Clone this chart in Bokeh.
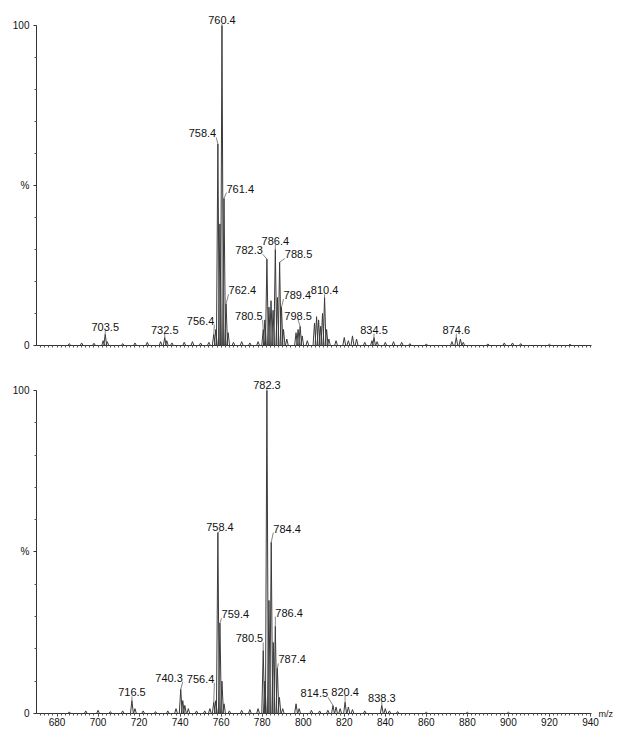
from bokeh.plotting import figure
from bokeh.models import FixedTicker, ColumnDataSource, LinearAxis
from bokeh.layouts import column
from bokeh.embed import file_html
from bokeh.resources import INLINE
from bokeh.core.properties import value, field

# ---------------- data ----------------
# top spectrum: m/z and relative intensity (%)
top_mz = [686, 692, 698, 702.5, 703.5, 704.5, 712, 718, 724, 730.5, 732.5, 733.5, 736,
          742, 746, 750, 754, 756.4, 757.4, 758.4, 759.4, 760.4, 761.4, 762.4, 763.4,
          766, 770, 774, 778, 780.5, 781.3, 782.3, 783.3, 784.3, 785.3, 786.4, 787.4,
          788.5, 789.4, 790.4, 792, 796.5, 797.5, 798.5, 799.5, 802, 805.5, 806.5, 807.5,
          808.5, 809.4, 810.4, 811.4, 812.5, 816, 820, 822, 824, 826, 830, 833.5, 834.5,
          836, 840, 844, 848, 852, 860, 872.5, 874.6, 876.6, 878, 890, 898, 902, 906,
          920, 930]
top_int = [0.6, 0.8, 0.7, 1.5, 3.5, 1.2, 0.6, 0.8, 1.0, 1.2, 2.5, 1.5, 0.8,
           1.0, 1.2, 0.8, 1.0, 3.5, 5.0, 63.0, 38.0, 100.0, 46.0, 13.0, 4.0,
           1.0, 1.2, 0.8, 1.2, 5.0, 8.0, 27.0, 12.0, 14.0, 11.0, 30.0, 15.0,
           26.0, 12.0, 5.0, 2.0, 4.0, 5.0, 6.0, 3.0, 1.5, 7.0, 9.0, 8.0,
           6.0, 10.0, 15.0, 5.0, 2.0, 1.5, 2.5, 1.5, 3.0, 2.0, 1.0, 1.5, 2.5,
           1.2, 1.0, 1.2, 1.0, 0.6, 0.5, 1.2, 2.5, 2.0, 1.0, 0.5, 0.8, 0.8, 0.6,
           0.4, 0.4]
top_labels = ["703.5", "732.5", "756.4", "758.4", "760.4", "761.4", "762.4", "780.5",
              "782.3", "786.4", "788.5", "789.4", "798.5", "810.4", "834.5", "874.6"]

# bottom spectrum
bot_mz = [686, 694, 700, 706, 712, 716.5, 718, 722, 728, 734, 738, 740.3, 741.3, 742.3,
          744, 748, 752, 754.5, 756.4, 757.4, 758.4, 759.4, 760.4, 761.4, 764, 770, 774,
          778, 780.5, 781.3, 782.3, 783.3, 784.4, 785.4, 786.4, 787.4, 788.4, 790, 796.5,
          798, 804, 808, 812, 814.5, 816, 818, 820.4, 822, 824, 830, 838.3, 840, 842,
          846, 860, 880, 900]
bot_int = [0.5, 0.8, 1.0, 0.6, 0.8, 4.0, 1.5, 0.8, 0.6, 0.8, 1.5, 7.5, 4.0, 2.5,
           1.5, 0.8, 0.8, 1.5, 3.5, 4.0, 56.0, 28.0, 10.0, 3.0, 0.8, 1.0, 1.2,
           1.5, 19.5, 10.0, 100.0, 35.0, 53.0, 22.0, 27.0, 14.0, 5.0, 1.5, 3.0,
           1.5, 1.0, 0.8, 1.0, 2.5, 2.0, 1.5, 3.5, 2.0, 1.2, 0.8, 2.5, 1.5, 0.8,
           0.6, 0.4, 0.4, 0.4]
bot_labels = ["716.5", "740.3", "756.4", "758.4", "759.4", "780.5", "782.3", "784.4",
              "786.4", "787.4", "814.5", "820.4", "838.3"]

x_major = [680, 700, 720, 740, 760, 780, 800, 820, 840, 860, 880, 900, 920, 940]
x_minor = list(range(672, 942, 2))
y_major = [0, 50, 100]
y_minor = [10, 20, 30, 40, 60, 70, 80, 90]
y_tick_text = {0: "0", 50: "%", 100: "100"}
x_unit_text = "m/z"

# ---------------- label placement (style) ----------------
# (dx in m/z units, dy in %, alignment) for each label
top_label_place = [(0, 1.0, "center"), (0, 1.2, "center"), (0.3, 3.0, "right"),
                   (-0.8, 2.0, "right"), (0, 0.4, "center"), (1.2, 1.8, "left"),
                   (1.2, 3.0, "left"), (-0.3, 3.0, "right"), (-2.0, 1.5, "right"),
                   (0, 1.5, "center"), (2.5, 1.2, "left"), (1.0, 2.5, "left"),
                   (-1.0, 2.0, "center"), (0, 1.0, "center"), (0, 1.2, "center"),
                   (0, 1.2, "center")]
bot_label_place = [(0, 1.3, "center"), (1.0, 2.3, "right"), (0.3, 6.0, "right"),
                   (1.0, 0.5, "center"), (0.8, 1.5, "left"), (0, 2.5, "right"),
                   (0, 0.5, "center"), (1.0, 3.0, "left"), (0, 3.0, "left"),
                   (0.5, 1.5, "left"), (-2.4, 2.5, "right"), (0, 2.0, "center"),
                   (0, 1.2, "center")]

FONT = "Liberation Sans"
X0, X1 = 670.0, 940.5
HALF = 0.7
LINE = "#3a3a3a"
TXT = "#111111"
W = 615


def style_axis(ax):
    ax.major_tick_out = 3
    ax.major_tick_in = 0
    ax.minor_tick_out = 2
    ax.minor_tick_in = 0
    ax.axis_line_color = "#333333"
    ax.major_tick_line_color = "#333333"
    ax.minor_tick_line_color = "#555555"
    ax.major_label_text_font = FONT
    ax.major_label_text_color = TXT
    ax.major_label_text_font_size = "10px"


def make_panel(mz, inten, labels, place, height, ytop, b_top, b_bottom, show_xlabels):
    p = figure(width=W, height=height, output_backend="svg", toolbar_location=None,
               x_range=(X0, X1), y_range=(0, ytop),
               min_border_left=36, min_border_right=22,
               min_border_top=b_top, min_border_bottom=b_bottom)
    p.xgrid.visible = False
    p.ygrid.visible = False
    p.outline_line_color = None
    p.background_fill_color = "white"
    p.border_fill_color = "white"

    # peaks as narrow profile spikes
    xs = [[m - HALF, m, m + HALF] for m in mz]
    ys = [[0, h, 0] for h in inten]
    p.multi_line(xs=xs, ys=ys, line_color=LINE, line_width=1)

    # labels with leader lines
    lookup = dict(zip(mz, inten))
    lmz = [float(t) for t in labels]
    lh = [lookup[m] for m in lmz]
    lx = [m + pl[0] for m, pl in zip(lmz, place)]
    ly = [h + pl[1] for h, pl in zip(lh, place)]
    src = ColumnDataSource(dict(mz=lmz, h=lh, lx=lx, ly=ly, text=labels,
                                align=[pl[2] for pl in place]))
    p.segment(x0="mz", y0="h", x1="lx", y1="ly", source=src,
              line_color="#666666", line_width=0.8)
    p.text(x="lx", y="ly", text="text", source=src, text_align=field("align"),
           text_baseline="bottom", text_font=value(FONT), text_font_size="11px",
           text_color=TXT)

    # axes
    for ax in p.xaxis:
        if show_xlabels:
            ax.ticker = FixedTicker(ticks=x_major, minor_ticks=x_minor)
        else:
            ax.ticker = FixedTicker(ticks=[], minor_ticks=sorted(set(x_minor) | set(x_major)))
        style_axis(ax)
        ax.major_label_standoff = 1
    for ax in p.yaxis:
        ax.ticker = FixedTicker(ticks=y_major, minor_ticks=y_minor)
        ax.major_label_overrides = y_tick_text
        ax.bounds = (0, 100)
        style_axis(ax)
        ax.major_label_standoff = 4
    return p


top = make_panel(top_mz, top_int, top_labels, top_label_place,
                 height=362, ytop=104.06, b_top=12, b_bottom=17, show_xlabels=False)
bot = make_panel(bot_mz, bot_int, bot_labels, bot_label_place,
                 height=367, ytop=104.95, b_top=12, b_bottom=16, show_xlabels=True)

# "m/z" unit text at the right end of the bottom x axis (a tick-less right axis)
unit_axis = LinearAxis(ticker=FixedTicker(ticks=[0], minor_ticks=[]),
                       major_label_overrides={0: x_unit_text})
unit_axis.axis_line_color = None
unit_axis.major_tick_line_color = None
unit_axis.minor_tick_line_color = None
unit_axis.major_tick_out = 0
unit_axis.major_label_standoff = 7
unit_axis.major_label_text_font = FONT
unit_axis.major_label_text_color = TXT
unit_axis.major_label_text_font_size = "9px"
bot.add_layout(unit_axis, "right")

layout = column(top, bot, spacing=0)
open("out.html", "w").write(file_html(layout, INLINE))
